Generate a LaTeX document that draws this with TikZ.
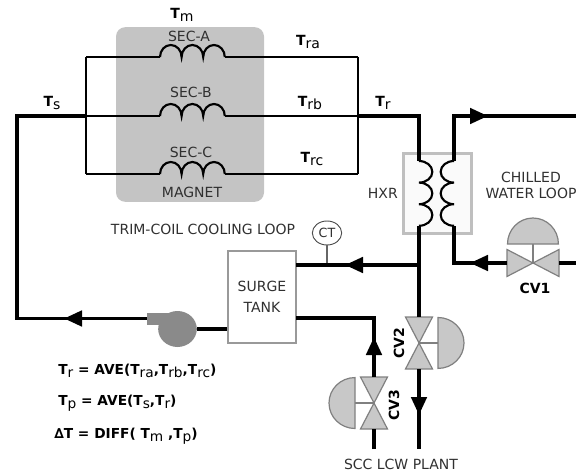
\documentclass[tikz,border=0pt]{standalone}
\usepackage{xcolor}
\usepackage{fontspec}
\setmainfont{DejaVu Sans}
\usepackage{tikz}
\usetikzlibrary{shapes.geometric, arrows.meta, positioning}
\definecolor{magnetgray}{HTML}{C4C4C4}
\definecolor{valvegray}{HTML}{C8C8C8}
\definecolor{edgegray}{HTML}{808080}
\definecolor{pumpgray}{HTML}{8A8A8A}
\definecolor{inkgray}{HTML}{303030}
\newcommand{\tsub}[1]{\textbf{T}\raisebox{-2.4pt}{\mdseries #1}}
\tikzset{
    caption/.style={font=\fontsize{10.5pt}{12pt}\selectfont, text=inkgray, inner sep=0pt, align=center},
    tlabel/.style={font=\fontsize{10.5pt}{12pt}\selectfont, inner sep=0pt},
    eqn/.style={font=\fontsize{10.3pt}{12pt}\selectfont\bfseries, inner sep=0pt, anchor=west},
    cvlabel/.style={font=\fontsize{10.5pt}{12pt}\selectfont\bfseries, inner sep=0pt},
    wire/.style={line width=1.7pt, line join=miter},
    pipe/.style={line width=2.8pt, line join=miter},
    arrow/.style={pipe, -{Triangle[length=13.5pt, width=11.5pt]}},
    coil/.style={line width=1.6pt},
    valve/.pic={
        \draw[fill=valvegray, draw=edgegray, line width=0.9pt] (-26,13.5) -- (26,-13.5) -- (26,13.5) -- (-26,-13.5) -- cycle;
        \draw[draw=edgegray, line width=0.9pt] (0,0) -- (0,-19);
        \draw[fill=valvegray, draw=edgegray, line width=0.9pt] (-25.5,-19) arc[start angle=180, end angle=0, x radius=19.1pt, y radius=19.5pt] -- cycle;
        \coordinate (-a) at (-26,0);
        \coordinate (-b) at (26,0);
    }
}

\begin{document}
\begin{tikzpicture}[x=0.75pt, y=-0.75pt]
    \useasboundingbox (0,0) rectangle (578,474);
    % magnet and heat exchanger
    \node (magnet) [fill=magnetgray, rounded corners=7pt, minimum width=111pt, minimum height=131pt, inner sep=0pt] at (190,114.5) {};
    \node (hxr) [draw=black!25, fill=black!2, line width=2.2pt, minimum width=51pt, minimum height=60pt, inner sep=0pt] at (437.5,193.5) {};
    \node (tank) [caption, draw=black!40, fill=white, line width=0.8pt, minimum width=51pt, minimum height=69pt] at (262,297) {SURGE\\[4pt]TANK};

    % coordinates of the pipe run
    \coordinate (busAtop) at (86,57);
    \coordinate (busAbot) at (86,174);
    \coordinate (supply) at (86,116);
    \coordinate (corner) at (17,116);
    \coordinate (retAtop) at (358,57);
    \coordinate (retAbot) at (358,174);
    \coordinate (return) at (358,116);
    \coordinate (hxrin) at (419,161);
    \coordinate (hxrout) at (419,226);
    \coordinate (chillin) at (454,226);
    \coordinate (chillout) at (454,161);
    \coordinate (teeright) at (419,265);
    \coordinate (tankin) at (296,265);
    \coordinate (tankmix) at (296,318);
    \coordinate (cvthreebend) at (374,318);

    % three magnet sections
    \foreach \y/\name in {57/A, 116/B, 174/C} {
        \coordinate (coil\name l) at (160,\y);
        \coordinate (coil\name r) at (225,\y);
        \draw[wire] (86,\y) -- (coil\name l);
        \draw[wire] (coil\name r) -- (358,\y);
        \draw[coil] (coil\name l) arc[start angle=180, end angle=0, x radius=8.1pt, y radius=9pt]
            arc[start angle=180, end angle=0, x radius=8.1pt, y radius=9pt]
            arc[start angle=180, end angle=0, x radius=8.1pt, y radius=9pt];
    }
    \draw[wire] (busAtop) -- (busAbot);
    \draw[wire] (retAtop) -- (retAbot);

    % exchanger coils
    \draw[coil] (hxrin) arc[start angle=90, end angle=-90, x radius=10pt, y radius=8.1pt]
        arc[start angle=90, end angle=-90, x radius=10pt, y radius=8.1pt]
        arc[start angle=90, end angle=-90, x radius=10pt, y radius=8.1pt];
    \draw[coil] (chillout) arc[start angle=90, end angle=270, x radius=10pt, y radius=8.1pt]
        arc[start angle=90, end angle=270, x radius=10pt, y radius=8.1pt]
        arc[start angle=90, end angle=270, x radius=10pt, y radius=8.1pt];

    % valves
    \pic (cvone) at (533,263) {valve};
    \pic[rotate=-90] (cvtwo) at (419,343) {valve};
    \pic[rotate=90] (cvthree) at (374,403) {valve};

    % pump
    \node (pump) [ellipse, fill=pumpgray, minimum width=29pt, minimum height=27pt, inner sep=0pt] at (177.5,329) {};
    \node (pumpout) [fill=pumpgray, minimum width=21pt, minimum height=9pt, inner sep=0pt] at (161,318.5) {};

    % temperature sensor
    \node (ct) [caption, font=\fontsize{9.5pt}{11pt}\selectfont, ellipse, draw=black!70, fill=white, line width=0.7pt, minimum width=22pt, minimum height=18pt] at (327,233) {CT};
    \coordinate (cttap) at (327,265);
    \draw[draw=black!60, line width=0.9pt] (ct) -- (cttap);

    % pipes
    \coordinate (arrowT) at (345,265);
    \coordinate (arrowP) at (64,318.5);
    \coordinate (arrowC) at (488,116);
    \coordinate (arrowW) at (470,263);
    \coordinate (arrowU) at (374,337);
    \coordinate (arrowD) at (419,415);
    \coordinate (plantin) at (374,449);
    \coordinate (plantout) at (419,449);
    \coordinate (chillend) at (576,116);
    \coordinate (waterend) at (576,263);
    \draw[pipe] (return) -- (419,116) -- (hxrin);
    \draw[pipe] (chillout) -- (454,116) -- (chillend);
    \draw[arrow] (454,116) -- (arrowC);
    \draw[pipe] (hxrout) -- (cvtwo-a);
    \draw[pipe] (cvtwo-b) -- (plantout);
    \draw[arrow] (cvtwo-b) -- (arrowD);
    \draw[pipe] (plantin) -- (cvthree-a);
    \draw[pipe] (cvthree-b) -- (cvthreebend) -- (tankmix);
    \draw[arrow] (cvthree-b) -- (arrowU);
    \draw[pipe] (teeright) -- (tankin);
    \draw[arrow] (teeright) -- (arrowT);
    \draw[pipe] (chillin) -- (454,263) -- (cvone-a);
    \draw[arrow] (cvone-a) -- (arrowW);
    \draw[pipe] (cvone-b) -- (waterend);
    \draw[pipe] (supply) -- (corner) |- (pumpout.west);
    \draw[arrow] (pumpout.west) -- (arrowP);
    \draw[pipe] (pump.east) -- (pump.east -| tank.west);

    % labels
    \node (tm) [tlabel] at (182,15) {\tsub{m}};
    \node (secA) [caption] at (189,36) {SEC-A};
    \node (secB) [caption] at (191,92) {SEC-B};
    \node (secC) [caption] at (191,152) {SEC-C};
    \node (magnetlabel) [caption] at (192,192) {MAGNET};
    \node (ts) [tlabel] at (52,103) {\tsub{s}};
    \node (tra) [tlabel] at (308,42) {\tsub{ra}};
    \node (trb) [tlabel] at (310,103) {\tsub{rb}};
    \node (trc) [tlabel] at (312,159) {\tsub{rc}};
    \node (tr) [tlabel] at (383,103) {\tsub{r}};
    \node (loop) [caption] at (203,229) {TRIM-COIL COOLING LOOP};
    \node (hxrlabel) [caption, left=3pt of hxr] {HXR};
    \node (water) [caption] at (531,185) {CHILLED\\WATER LOOP};
    \node (cvonelabel) [cvlabel] at (535,288) {CV1};
    \node (cvtwolabel) [cvlabel, rotate=90] at (399,343) {CV2};
    \node (cvthreelabel) [cvlabel, rotate=90] at (394,405) {CV3};
    \node (plant) [caption] at (401,464) {SCC LCW PLANT};
    \node (eqa) [eqn] at (58,371) {\tsub{r} = AVE(\tsub{ra},\tsub{rb},\tsub{rc})};
    \node (eqb) [eqn] at (58,403) {\tsub{p} = AVE(\tsub{s},\tsub{r})};
    \node (eqc) [eqn] at (54,436) {∆T = DIFF( \tsub{m} ,\tsub{p})};
\end{tikzpicture}
\end{document}
